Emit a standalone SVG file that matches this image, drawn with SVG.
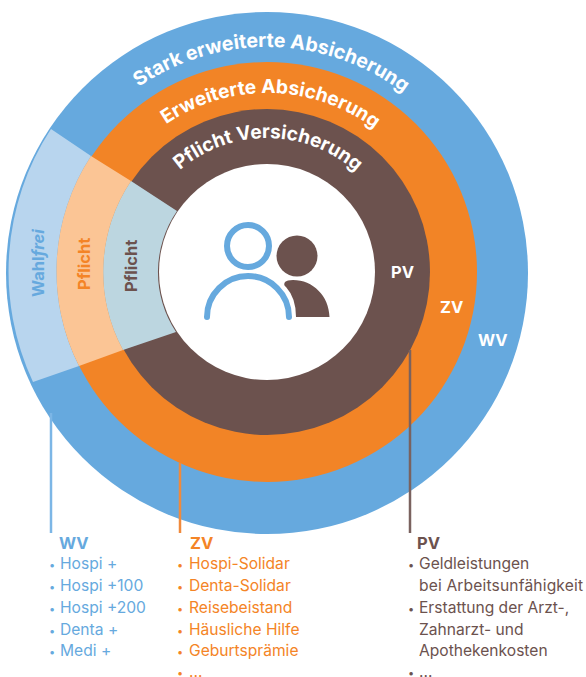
<svg xmlns="http://www.w3.org/2000/svg" width="586" height="677" viewBox="0 0 586 677">
<style>
text{font-family:Inter,"Liberation Sans",sans-serif}
.a{font-weight:700;fill:#fff;font-size:19.200px}
.b{font-weight:700;font-size:16.500px}
.l{font-size:15.600px}
.d{font-size:11px}
.h{font-weight:700;font-size:16.500px}
.wv{fill:#66a9de}.zv{fill:#f48426}.pv{fill:#6c524e}
.c{fill:none;stroke-width:2.500}
</style>
<defs>
<path id="p1" d="M 41 273 A 226 226 0 0 1 493 273"/>
<path id="p2" d="M 88 272 A 179 179 0 0 1 446 272"/>
<path id="p3" d="M 133 272 A 134 134 0 0 1 401 272"/>
</defs>
<g id="ring-wv"><circle cx="267" cy="273" r="261" fill="#66a9de"/>
<path d="M51 129 A261 261 0 0 0 33 382 L79 366 A210 210 0 0 1 91 156Z" fill="#b8d5ee"/></g>
<g id="ring-zv"><circle cx="267" cy="272" r="210" fill="#f28426"/>
<path d="M91 156 A210 210 0 0 0 79 366 L123 350 A163 163 0 0 1 131 181Z" fill="#fbc595"/></g>
<g id="ring-pv"><circle cx="267" cy="272" r="163" fill="#6c524e"/>
<path d="M131 181 A163 163 0 0 0 123 350 L176 332 A108 108 0 0 1 177 211Z" fill="#bcd6e0"/></g>
<g id="center"><circle cx="267" cy="272" r="108" fill="#fff"/>
<circle cx="248" cy="246" r="21" fill="none" stroke="#66a9de" stroke-width="6"/>
<path d="M207 317 A41 41 0 0 1 289 317" fill="none" stroke="#66a9de" stroke-width="6" stroke-linecap="round"/>
<circle cx="297" cy="256" r="20.500" fill="#6c524e"/>
<path d="M285 282 Q283 285 286 287 Q296 298 296 317 L329.500 317 C329 296 313 280 293 280 Q287 280 285 282Z" fill="#6c524e"/></g>
<g id="connectors">
<path class="c" d="M51 413V533" stroke="#7cb6e6"/>
<path class="c" d="M180 463V533" stroke="#f08a3c"/>
<path class="c" d="M410 350V533" stroke="#7a625f"/>
</g>
<g id="label-stark"><text class="a" style="font-size:19.600px"><textPath href="#p1" startOffset="50.700%" text-anchor="middle">Stark erweiterte Absicherung</textPath></text></g>
<g id="label-erw"><text class="a"><textPath href="#p2" startOffset="50.700%" text-anchor="middle">Erweiterte Absicherung</textPath></text></g>
<g id="label-pf"><text class="a"><textPath href="#p3" startOffset="50.300%" text-anchor="middle">Pflicht Versicherung</textPath></text></g>
<g id="label-wahlfrei"><text class="b wv" transform="translate(44,297) rotate(-90)">Wahl<tspan font-style="italic">frei</tspan></text></g>
<g id="label-pf2"><text class="b zv" transform="translate(90,290) rotate(-90)">Pflicht</text></g>
<g id="label-pf3"><text class="b pv" transform="translate(137,292) rotate(-90)">Pflicht</text></g>
<text class="b" fill="#fff" x="391" y="278">PV</text>
<text class="b" fill="#fff" x="440" y="313">ZV</text>
<text class="b" fill="#fff" x="478" y="346">WV</text>
<g id="list-wv" class="wv"><text class="h" x="59" y="549">WV</text>
<g class="d"><text x="49" y="569">•</text><text x="49" y="591">•</text><text x="49" y="613">•</text><text x="49" y="635">•</text><text x="49" y="656">•</text></g>
<g class="l"><text x="60" y="569">Hospi +</text><text x="60" y="591">Hospi +100</text><text x="60" y="613">Hospi +200</text><text x="60" y="635">Denta +</text><text x="60" y="656">Medi +</text></g></g>
<g id="list-zv" class="zv"><text class="h" x="190" y="549">ZV</text>
<g class="d"><text x="177" y="569">•</text><text x="177" y="591">•</text><text x="177" y="613">•</text><text x="177" y="635">•</text><text x="177" y="656">•</text><text x="177" y="677">•</text></g>
<g class="l"><text x="189" y="569">Hospi-Solidar</text><text x="189" y="591">Denta-Solidar</text><text x="189" y="613">Reisebeistand</text><text x="189" y="635">Häusliche Hilfe</text><text x="189" y="656">Geburtsprämie</text><text x="189" y="677">…</text></g></g>
<g id="list-pv" class="pv"><text class="h" x="417" y="549">PV</text>
<g class="d"><text x="408" y="569">•</text><text x="408" y="613">•</text><text x="408" y="677">•</text></g>
<g class="l"><text x="419" y="569">Geldleistungen</text><text x="419" y="591" textLength="164">bei Arbeitsunfähigkeit</text><text x="419" y="613">Erstattung der Arzt-,</text><text x="419" y="635">Zahnarzt- und</text><text x="419" y="656">Apothekenkosten</text><text x="419" y="677">…</text></g></g>
</svg>
